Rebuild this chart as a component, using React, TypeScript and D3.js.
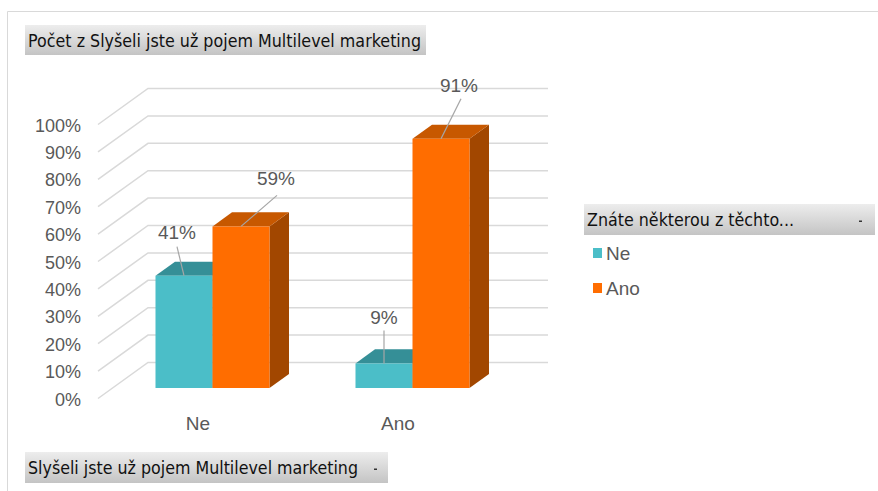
import React from "react";
import * as d3 from "d3";

const categories = ["Ne", "Ano"];
const seriesNames = ["Ne", "Ano"];
const seriesValues = [
  [0.41, 0.09], // Ne
  [0.59, 0.91], // Ano
];
const tickValues = [0, 0.1, 0.2, 0.3, 0.4, 0.5, 0.6, 0.7, 0.8, 0.9, 1.0];
const titleText = "Počet z Slyšeli jste už pojem Multilevel marketing";
const legendTitle = "Znáte některou z těchto...";
const axisButtonText = "Slyšeli jste už pojem Multilevel marketing";

const COLORS = [
  { front: "#4BBEC8", top: "#358F97", side: "#2F7F86" },
  { front: "#FF6D00", top: "#C75800", side: "#A24700" },
];

// label leader offsets (layout only), per category then per series:
// [labelDx, labelDy, lineEndDx, lineEndDy] relative to bar top-front center
const labelLayout = [
  [[-7, -43, -7, -29], [35, -48, 36, -31]],
  [[0, -46, 0, -33], [18, -53, 20, -40]],
];

const W = 878;
const H = 491;
const FONT = "'Liberation Sans', Arial, sans-serif";
const BTN_FONT = "'DejaVu Sans', Verdana, sans-serif";

export default function App() {
  const floorFront = 398.5;
  const wallDx = 50;
  const wallDy = 36;
  const plotLeft = 98;
  const plotRight = 498;
  const y = d3.scaleLinear().domain([0, 1]).range([0, 274]);
  const x = d3.scaleBand<string>().domain(categories).range([plotLeft, plotRight]);
  const inner = d3
    .scaleBand<number>()
    .domain(seriesNames.map((_, i) => i))
    .range([0, 114]);

  const proj = (px: number, v: number, d: number): [number, number] => [
    px + d * wallDx,
    floorFront - y(v) - d * wallDy,
  ];
  const d0 = 0.29;
  const d1 = 0.68;

  const pts = (arr: [number, number][]) => arr.map((p) => p.join(",")).join(" ");

  const bars: React.ReactNode[] = [];
  const labels: React.ReactNode[] = [];
  categories.forEach((cat, ci) => {
    const center = (x(cat) as number) + x.bandwidth() / 2;
    const groupStart = center - 57;
    seriesNames.forEach((_, si) => {
      const v = seriesValues[si][ci];
      const x0 = groupStart + (inner(si) as number);
      const x1 = x0 + inner.bandwidth();
      const c = COLORS[si];
      const fTL = proj(x0, v, d0);
      const fTR = proj(x1, v, d0);
      const fBR = proj(x1, 0, d0);
      const fBL = proj(x0, 0, d0);
      const bTL = proj(x0, v, d1);
      const bTR = proj(x1, v, d1);
      const bBR = proj(x1, 0, d1);
      bars.push(
        <g key={`b${ci}-${si}`}>
          <polygon points={pts([fTR, bTR, bBR, fBR])} fill={c.side} />
          <polygon points={pts([fTL, bTL, bTR, fTR])} fill={c.top} />
          <polygon points={pts([fTL, fTR, fBR, fBL])} fill={c.front} />
        </g>
      );
      const cx = (fTL[0] + fTR[0]) / 2;
      const cy = fTL[1];
      const [ldx, ldy, ex, ey] = labelLayout[ci][si];
      labels.push(
        <g key={`l${ci}-${si}`}>
          <line x1={cx} y1={cy} x2={cx + ex} y2={cy + ey} stroke="#A6A6A6" strokeWidth={1.2} />
          <text
            x={cx + ldx}
            y={cy + ldy}
            textAnchor="middle"
            dominantBaseline="central"
            fontFamily={FONT}
            fontSize={19}
            fill="#595959"
          >
            {d3.format(".0%")(v)}
          </text>
        </g>
      );
    });
  });

  const grid = tickValues.map((t, i) => {
    const a = proj(plotLeft, t, 0);
    const b = proj(plotLeft, t, 1);
    const c = proj(plotRight, t, 1);
    return (
      <g key={`g${i}`}>
        <polyline points={pts([a, b, c])} fill="none" stroke="#D9D9D9" strokeWidth={1.5} />
      </g>
    );
  });

  const ticks = tickValues.map((t, i) => (
    <text
      key={`t${i}`}
      x={81}
      y={floorFront - y(t) + 1}
      textAnchor="end"
      dominantBaseline="central"
      fontFamily={FONT}
      fontSize={18}
      fill="#595959"
    >
      {d3.format(".0%")(t)}
    </text>
  ));

  const catLabels = categories.map((c, i) => (
    <text
      key={`c${i}`}
      x={(x(c) as number) + x.bandwidth() / 2}
      y={423}
      textAnchor="middle"
      dominantBaseline="central"
      fontFamily={FONT}
      fontSize={19}
      fill="#595959"
    >
      {c}
    </text>
  ));

  const Button = ({
    bx,
    by,
    bw,
    bh,
    text,
    textLen,
    arrow,
  }: {
    bx: number;
    by: number;
    bw: number;
    bh: number;
    text: string;
    textLen: number;
    arrow?: number;
  }) => (
    <g>
      <rect x={bx} y={by} width={bw} height={bh} fill="url(#btnGrad)" />
      <text
        x={bx + 3}
        y={by + bh / 2 + 6.5}
        fontFamily={BTN_FONT}
        fontSize={18.5}
        fill="#111"
        textLength={textLen}
        lengthAdjust="spacingAndGlyphs"
      >
        {text}
      </text>
      {arrow !== undefined && (
        <rect x={arrow} y={by + bh / 2 + 1} width={3} height={1.5} fill="#333" />
      )}
    </g>
  );

  return (
    <svg
      width={W}
      height={H}
      style={{ position: "absolute", left: 0, top: 0 }}
      viewBox={`0 0 ${W} ${H}`}
    >
      <defs>
        <linearGradient id="btnGrad" x1="0" y1="0" x2="0" y2="1">
          <stop offset="0" stopColor="#EDEDED" />
          <stop offset="1" stopColor="#C4C4C4" />
        </linearGradient>
      </defs>
      <rect x={0} y={0} width={W} height={H} fill="#fff" />
      <polyline points={`7.5,${H} 7.5,11.5 ${W},11.5`} fill="none" stroke="#D9D9D9" strokeWidth={1} />
      <Button bx={25} by={25} bw={401} bh={30} text={titleText} textLen={393} />
      {grid}
      {ticks}
      {bars}
      {labels}
      {catLabels}
      <Button bx={584} by={204} bw={291} bh={31} text={legendTitle} textLen={207} arrow={859} />
      {seriesNames.map((s, i) => (
        <g key={`lg${i}`}>
          <rect x={593} y={248 + i * 35} width={9} height={10} fill={COLORS[i].front} />
          <text
            x={606}
            y={253 + i * 35}
            dominantBaseline="central"
            fontFamily={FONT}
            fontSize={19}
            fill="#595959"
          >
            {s}
          </text>
        </g>
      ))}
      <Button bx={25} by={452} bw={363} bh={31} text={axisButtonText} textLen={330} arrow={374} />
    </svg>
  );
}
